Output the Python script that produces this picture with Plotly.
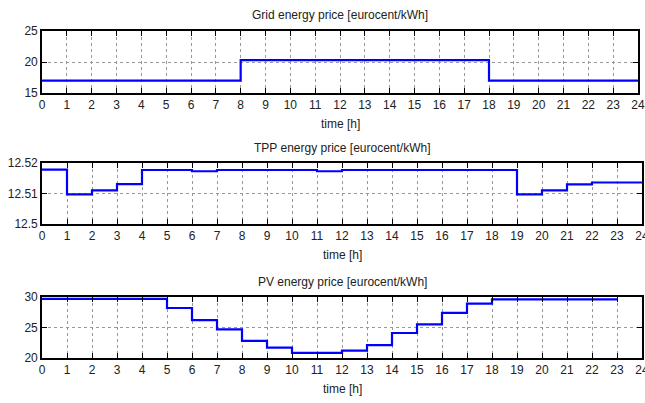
import plotly.graph_objects as go
from plotly.subplots import make_subplots

hours = [0, 1, 2, 3, 4, 5, 6, 7, 8, 9, 10, 11, 12, 13, 14, 15, 16, 17, 18, 19, 20, 21, 22, 23, 24]
hours_pv = [0, 1, 2, 3, 4, 5, 6, 7, 8, 9, 10, 11, 12, 13, 14, 15, 16, 17, 18, 19, 20, 21, 22, 23]

grid_price = [17.0, 17.0, 17.0, 17.0, 17.0, 17.0, 17.0, 17.0,
              20.3, 20.3, 20.3, 20.3, 20.3, 20.3, 20.3, 20.3, 20.3, 20.3,
              17.0, 17.0, 17.0, 17.0, 17.0, 17.0, 17.0]

tpp_price = [12.5178, 12.5097, 12.5110, 12.5131, 12.5177, 12.5177, 12.5173, 12.5177,
             12.5177, 12.5177, 12.5177, 12.5173, 12.5177, 12.5177, 12.5177, 12.5177,
             12.5177, 12.5177, 12.5177, 12.5097, 12.5110, 12.5130, 12.5136, 12.5136, 12.5136]

pv_price = [29.7, 29.7, 29.7, 29.7, 29.7, 28.2, 26.2, 24.7, 22.8, 21.7, 20.85, 20.85,
            21.2, 22.1, 24.1, 25.5, 27.4, 28.9, 29.6, 29.6, 29.6, 29.6, 29.6, 29.6]

titles = ["Grid energy price [eurocent/kWh]",
          "TPP energy price [eurocent/kWh]",
          "PV energy price [eurocent/kWh]"]
x_ticks = list(range(25))
y_ticks = [[15, 20, 25], [12.5, 12.51, 12.52], [20, 25, 30]]
y_ticktext = [["15", "20", "25"], ["12.5", "12.51", "12.52"], ["20", "25", "30"]]
y_ranges = [[15, 25], [12.5, 12.52], [20, 30]]

W, H = 645, 403
x0 = 42
x_right = [638, 642, 642]
boxes = [(31, 93), (163, 224), (297, 358)]
title_y = [15, 148, 282]
xlabel_y = [124, 255, 389]

fig = make_subplots(rows=3, cols=1)
series = [(hours, grid_price), (hours, tpp_price), (hours_pv, pv_price)]
font_fam = "Liberation Sans, Arial, sans-serif"

for i, (xs, ys) in enumerate(series):
    r = i + 1
    x1 = x_right[i]
    fig.add_trace(go.Scatter(x=xs, y=ys, mode="lines", line_shape="hv",
                             line=dict(color="#0000ff", width=2.2),
                             showlegend=False, cliponaxis=False), row=r, col=1)
    top, bot = boxes[i]
    xa = dict(domain=[x0 / W, x1 / W], range=[0, 24], tickvals=x_ticks,
              ticktext=[str(t) for t in x_ticks], automargin=False,
              ticklabeloverflow="allow",
              ticks="inside", ticklen=5, tickwidth=1.2, tickcolor="black",
              showline=True, linecolor="black", linewidth=1.6, mirror="ticks",
              showgrid=True, gridcolor="#999999", griddash="dot", gridwidth=1,
              zeroline=False, tickfont=dict(family=font_fam, size=12, color="#222222"))
    ya = dict(domain=[1 - bot / H, 1 - top / H], range=y_ranges[i],
              tickvals=y_ticks[i], ticktext=y_ticktext[i], automargin=False,
              ticklabeloverflow="allow",
              ticks="inside", ticklen=5, tickwidth=1.2, tickcolor="black",
              showline=True, linecolor="black", linewidth=1.6, mirror="ticks",
              showgrid=True, gridcolor="#999999", griddash="dot", gridwidth=1,
              zeroline=False, tickfont=dict(family=font_fam, size=12, color="#222222"))
    fig.update_xaxes(row=r, col=1, **xa)
    fig.update_yaxes(row=r, col=1, **ya)
    fig.add_annotation(text=titles[i], x=(x0 + x1) / 2 / W, y=1 - title_y[i] / H,
                       xref="paper", yref="paper", showarrow=False,
                       xanchor="center", yanchor="middle",
                       font=dict(family=font_fam, size=12, color="#222222"))
    fig.add_annotation(text="time [h]", x=(x0 + x1) / 2 / W, y=1 - xlabel_y[i] / H,
                       xref="paper", yref="paper", showarrow=False,
                       xanchor="center", yanchor="middle",
                       font=dict(family=font_fam, size=12, color="#222222"))

fig.update_layout(width=W, height=H, margin=dict(l=0, r=0, t=0, b=0, autoexpand=False),
                  paper_bgcolor="white", plot_bgcolor="white")

fig.write_html("out.html", config={"displayModeBar": False},
               post_script="document.body.style.margin='0';document.body.style.overflow='hidden';")
